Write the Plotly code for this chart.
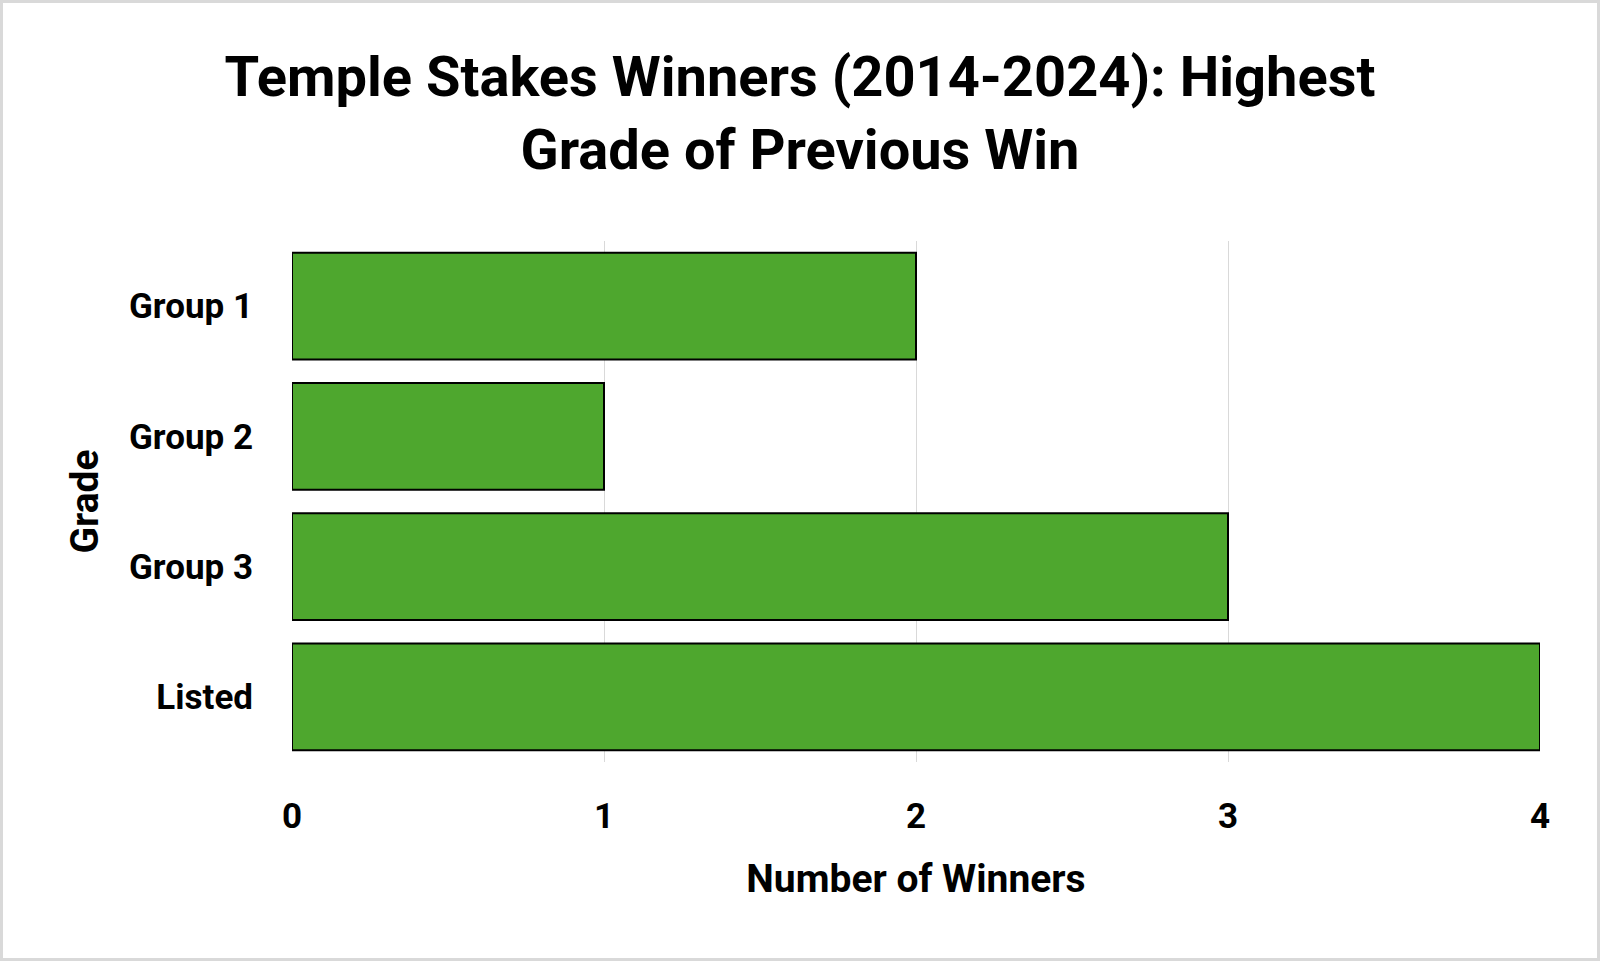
import plotly.graph_objects as go

# data
grades = ["Group 1", "Group 2", "Group 3", "Listed"]
winners = [2, 1, 3, 4]
x_ticks = [0, 1, 2, 3, 4]

W, H = 1600, 961
L, R, T, B = 292, 60, 241, 199
FONT = "Roboto"

fig = go.Figure()
fig.add_trace(go.Bar(
    y=grades,
    x=winners,
    orientation="h",
    marker=dict(color="#4ea72e", line=dict(color="black", width=2)),
))

# thin grey frame around the whole picture
pw, ph = W - L - R, H - T - B
fig.add_shape(
    type="rect", xref="paper", yref="paper", layer="above",
    x0=(1.5 - L) / pw, x1=1 + (R - 1.5) / pw,
    y0=-(B - 1.5) / ph, y1=1 + (T - 1.5) / ph,
    line=dict(color="#d9d9d9", width=3),
)

fig.update_layout(
    width=W, height=H,
    margin=dict(l=L, r=R, t=T, b=B),
    paper_bgcolor="white", plot_bgcolor="white",
    showlegend=False,
    bargap=0.18,
    font=dict(family=FONT, color="black"),
    title=dict(
        text="Temple Stakes Winners (2014-2024): Highest<br>Grade of Previous Win",
        x=0.5, xanchor="center", xref="container",
        y=1 - 96 / H, yanchor="middle", yref="container",
        font=dict(size=56, family=FONT, color="black", weight="bold"),
    ),
    xaxis=dict(
        range=[0, 4], tickvals=x_ticks,
        showgrid=True, gridcolor="#d9d9d9", gridwidth=1,
        zeroline=False, showline=False,
        tickfont=dict(size=35, family=FONT, color="black", weight="bold"),
        ticklabelstandoff=30,
        title=dict(text="Number of Winners", standoff=28,
                   font=dict(size=39, family=FONT, color="black", weight="bold")),
        fixedrange=True,
    ),
    yaxis=dict(
        categoryorder="array", categoryarray=grades[::-1],
        showgrid=False, zeroline=False, showline=False,
        tickfont=dict(size=35, family=FONT, color="black", weight="bold"),
        ticklabelstandoff=38,
        title=dict(text="Grade", standoff=18,
                   font=dict(size=39, family=FONT, color="black", weight="bold")),
        fixedrange=True,
    ),
)

fig.write_html("out.html", config={"displayModeBar": False},
               post_script="document.body.style.margin='0';")
